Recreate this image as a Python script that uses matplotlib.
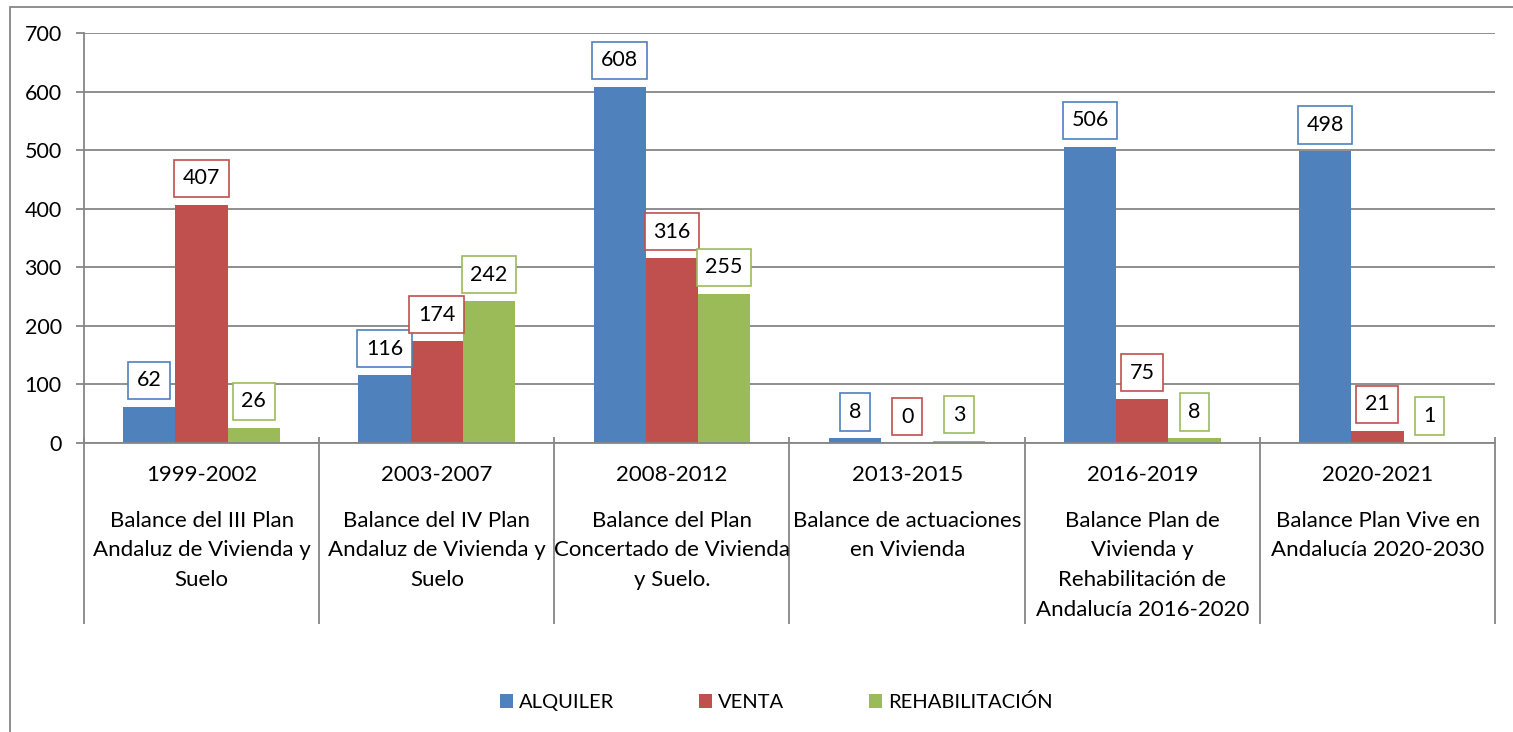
import numpy as np
import matplotlib.pyplot as plt
from matplotlib.patches import Rectangle
import matplotlib.transforms as mtransforms

plt.rcParams['font.family'] = ['Lato', 'DejaVu Sans']

# Datos por periodo
periodos = ['1999-2002', '2003-2007', '2008-2012', '2013-2015', '2016-2019', '2020-2021']
planes = [
    ['Balance del III Plan', 'Andaluz de Vivienda y', 'Suelo'],
    ['Balance del IV Plan', 'Andaluz de Vivienda y', 'Suelo'],
    ['Balance del Plan', 'Concertado de Vivienda', 'y Suelo.'],
    ['Balance de actuaciones', 'en Vivienda'],
    ['Balance Plan de', 'Vivienda y', 'Rehabilitación de', 'Andalucía 2016-2020'],
    ['Balance Plan Vive en', 'Andalucía 2020-2030'],
]
alquiler = [62, 116, 608, 8, 506, 498]
venta = [407, 174, 316, 0, 75, 21]
rehabilitacion = [26, 242, 255, 3, 8, 1]

series = [('ALQUILER', alquiler, '#4F81BD'),
          ('VENTA', venta, '#C0504D'),
          ('REHABILITACIÓN', rehabilitacion, '#9BBB59')]

W, H = 1513, 732
fig = plt.figure(figsize=(W / 100, H / 100), dpi=100)
ax = fig.add_axes([84 / W, 1 - 443 / H, (1495 - 84) / W, (443 - 33) / H])

grid_col = '#868686'
x = np.arange(len(periodos))
w = 1 / 4.5

for i, (nombre, vals, col) in enumerate(series):
    pos = x + (i - 1) * w
    ax.bar(pos, vals, width=w, color=col, label=nombre, zorder=2)
    for xp, v in zip(pos, vals):
        ax.annotate(str(v), (xp, v), xytext=(0, 19), textcoords='offset points',
                    ha='center', va='center', fontsize=15.5, zorder=4,
                    bbox=dict(boxstyle='square,pad=0.4', fc='white', ec=col, lw=1.2))

ax.set_xlim(-0.5, len(periodos) - 0.5)
ax.set_ylim(0, 700)
ax.set_yticks(np.arange(0, 701, 100))
ax.yaxis.grid(True, color=grid_col, lw=1.3, zorder=0)
ax.set_axisbelow(True)
ax.tick_params(axis='y', length=6, width=1.3, color=grid_col, pad=10, labelsize=15.5)
ax.set_xticks([])
for s in ['top', 'right']:
    ax.spines[s].set_visible(False)
for s in ['left', 'bottom']:
    ax.spines[s].set_color(grid_col)
    ax.spines[s].set_linewidth(1.3)

# Separadores del eje de categorías
trans = mtransforms.blended_transform_factory(ax.transData, ax.transAxes)
ybot = -(624 - 443) / (443 - 33)
ax.vlines(np.arange(len(periodos) + 1) - 0.5, ybot, 0.015, transform=trans,
          color=grid_col, lw=1.3, clip_on=False)

# Etiquetas de categoría en dos niveles
for i, (per, lineas) in enumerate(zip(periodos, planes)):
    xc = (84 + 235.2 * (i + 0.5)) / W
    fig.text(xc, 1 - 475 / H, per, ha='center', va='center', fontsize=16)
    for j, linea in enumerate(lineas):
        fig.text(xc, 1 - (521 + 29.5 * j) / H, linea, ha='center', va='center', fontsize=16)

fig.legend(loc='center', bbox_to_anchor=(776 / W, 1 - 702 / H), ncol=3, frameon=False,
           fontsize=14.5, handlelength=0.65, handleheight=0.65, handletextpad=0.3,
           columnspacing=4.2)

# Borde del gráfico
fig.patches.append(Rectangle((10 / W, -0.1), 1.2, 1 - 7 / H + 0.1, transform=fig.transFigure,
                             fill=False, ec=grid_col, lw=1.3))

fig.savefig('out.png', dpi=100)
